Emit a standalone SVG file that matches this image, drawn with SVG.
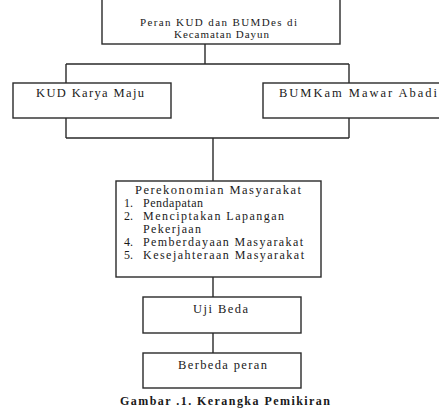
<svg xmlns="http://www.w3.org/2000/svg" width="439" height="408" viewBox="0 0 439 408">
<style>
.box{fill:#fff;stroke:#2a2a2a;stroke-width:1.4}
.ln{fill:none;stroke:#2a2a2a;stroke-width:1.4}
text{font-family:"Liberation Serif","Times New Roman",serif;fill:#1a1a1a}
.t10{font-size:11px}
.t12{font-size:12.5px}
.t12s{font-size:12px}
.cap{font-size:12px;font-weight:bold;text-anchor:middle}
</style>
<rect width="439" height="408" fill="#fff"/>
<g id="connectors">
<path class="ln" d="M205 44V64M66 64H349M66 64V83M349 64V83"/>
<path class="ln" d="M66 118V138M349 118V138M66 138H349M213 138V181"/>
<path class="ln" d="M213 277V297M213 333V353"/>
</g>
<g id="peran">
<rect class="box" x="102" y="-3" width="238" height="47"/>
<text class="t10" x="140" y="26" textLength="157">Peran KUD dan BUMDes di</text>
<text class="t10" x="174" y="38" textLength="95">Kecamatan  Dayun</text>
</g>
<g id="kud">
<rect class="box" x="13" y="83" width="158" height="35"/>
<text class="t12" x="36" y="97" textLength="108">KUD Karya Maju</text>
</g>
<g id="bumkam">
<rect class="box" x="263" y="83" width="180" height="35"/>
<text class="t12" x="279" y="97" textLength="158">BUMKam Mawar Abadi</text>
</g>
<g id="perekonomian">
<rect class="box" x="116" y="181" width="205" height="96"/>
<text class="t12" x="135" y="194" textLength="166">Perekonomian Masyarakat</text>
<text class="t12s" x="124" y="207">1.</text><text class="t12s" x="143" y="207" textLength="60">Pendapatan</text>
<text class="t12s" x="124" y="220">2.</text><text class="t12s" x="143" y="220" textLength="141">Menciptakan Lapangan</text>
<text class="t12s" x="143" y="233" textLength="58">Pekerjaan</text>
<text class="t12s" x="124" y="246">4.</text><text class="t12s" x="143" y="246" textLength="160">Pemberdayaan Masyarakat</text>
<text class="t12s" x="124" y="259">5.</text><text class="t12s" x="143" y="259" textLength="161">Kesejahteraan Masyarakat</text>
</g>
<g id="uji">
<rect class="box" x="143" y="297" width="158" height="36"/>
<text class="t12" x="193" y="313" textLength="55">Uji Beda</text>
</g>
<g id="berbeda">
<rect class="box" x="143" y="353" width="158" height="35"/>
<text class="t12" x="178" y="369" textLength="89">Berbeda peran</text>
</g>
<text class="cap" x="225" y="405" textLength="210">Gambar .1. Kerangka Pemikiran</text>
</svg>
